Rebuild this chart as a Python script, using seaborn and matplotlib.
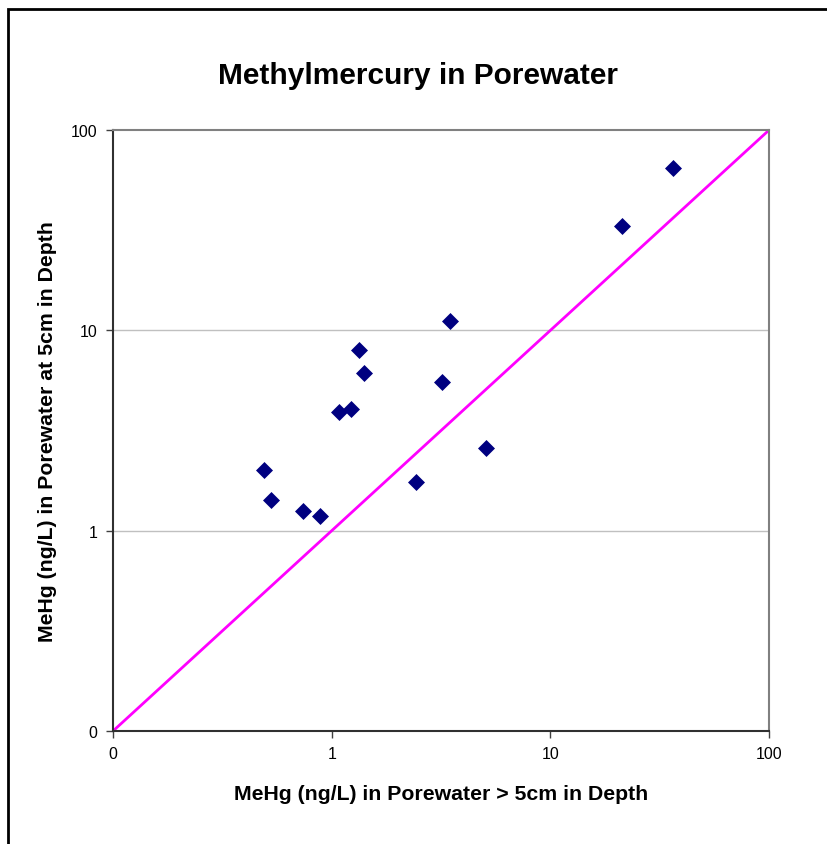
import numpy as np
import pandas as pd
import seaborn as sns
import matplotlib.pyplot as plt
from matplotlib.patches import Rectangle

# MeHg values (ng/L)
deep = [0.49, 0.53, 0.74, 0.88, 1.08, 1.23, 1.34, 1.40, 2.42, 3.18, 3.46, 5.1, 21.3, 36.5]
shallow = [2.02, 1.43, 1.26, 1.18, 3.9, 4.07, 8.0, 6.1, 1.76, 5.5, 11.1, 2.6, 33.1, 64.6]
ref_line = [0.1, 100]
ticks = [0.1, 1, 10, 100]
tick_labels = ['0', '1', '10', '100']

df = pd.DataFrame({'deep': deep, 'shallow': shallow})

sns.set_style('white')
plt.rcParams['font.family'] = ['Liberation Sans', 'DejaVu Sans']
plt.rcParams['text.color'] = 'black'
plt.rcParams['axes.labelcolor'] = 'black'
plt.rcParams['xtick.color'] = 'black'
plt.rcParams['ytick.color'] = 'black'

fig = plt.figure(figsize=(8.28, 8.45), dpi=100)
ax = fig.add_axes([0.1365, 0.1337, 0.7923, 0.7112])

# outer chart frame
fig.patches.append(Rectangle((0.0097, -0.05), 1.1, 1.038, transform=fig.transFigure,
                             fill=False, edgecolor='black', linewidth=2))

ax.plot(ref_line, ref_line, color='#FF00FF', linewidth=2, zorder=2)
sns.scatterplot(data=df, x='deep', y='shallow', marker='D', color='#000080',
                s=75, linewidth=0, ax=ax, zorder=3)

ax.set_xscale('log')
ax.set_yscale('log')
ax.set_xlim(0.1, 100)
ax.set_ylim(0.1, 100)
ax.set_xticks(ticks)
ax.set_xticklabels(tick_labels)
ax.set_yticks(ticks)
ax.set_yticklabels(tick_labels)
ax.minorticks_off()
ax.tick_params(axis='both', direction='out', length=5, width=1, color='#404040',
               labelsize=11.5, pad=6, left=True, bottom=True)

for y in [1, 10]:
    ax.axhline(y, color='#C0C0C0', linewidth=1, zorder=1)

ax.spines['top'].set_color('#808080')
ax.spines['right'].set_color('#808080')
ax.spines['left'].set_color('#303030')
ax.spines['bottom'].set_color('#303030')
for s in ax.spines.values():
    s.set_linewidth(1.5)

ax.set_xlabel('MeHg (ng/L) in Porewater > 5cm in Depth', fontsize=15.3, fontweight='bold', labelpad=16)
ax.set_ylabel('MeHg (ng/L) in Porewater at 5cm in Depth', fontsize=15.3, fontweight='bold', labelpad=10)
fig.text(0.505, 0.91, 'Methylmercury in Porewater', ha='center', va='center',
         fontsize=21.5, fontweight='bold')

fig.savefig('out.png', dpi=100)
